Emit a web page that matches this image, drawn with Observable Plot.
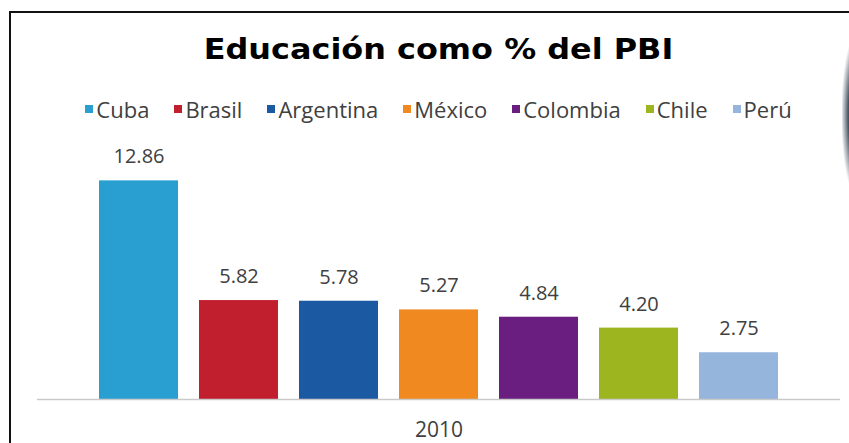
<!DOCTYPE html>
<html>
<head>
<meta charset="utf-8">
<script src="https://cdn.jsdelivr.net/npm/d3@7"></script>
<script src="https://cdn.jsdelivr.net/npm/@observablehq/plot@0.6"></script>
<style>
  html, body { margin: 0; padding: 0; background: #fff; }
  body { width: 849px; height: 443px; position: relative; overflow: hidden; }
  #frame { position: absolute; left: 9px; top: 11px; width: 845px; height: 440px;
           border-top: 2px solid #111; border-left: 2px solid #111; box-sizing: border-box; }
  #blob { position: absolute; left: 842px; top: 40px; width: 14px; height: 150px;
          background: radial-gradient(ellipse at 100% 50%, #2b3641 0%, #4a5866 40%, rgba(255,255,255,0) 75%); }
  #title { position: absolute; left: 0; width: 877px; top: 35px; text-align: center;
           font-family: "DejaVu Sans", sans-serif; font-weight: bold; font-size: 29px; line-height: 1;
           transform: scaleX(1.1); transform-origin: 438.5px 50%; color: #000; }
  #legend { position: absolute; left: 0; width: 877px; top: 96px; height: 26px; }
  #legend .lg-swatches { justify-content: center; min-height: 26px; margin: 0; }
  #legend .lg-swatch { margin-right: 25px; line-height: 26px; }
  #legend .lg-swatch:last-child { margin-right: 0; }
  #legend .lg-swatch > svg { margin-right: 3px; }
  #chart { position: absolute; left: 0; top: 130px; }
</style>
</head>
<body>
<div id="frame"></div>
<div id="blob"></div>
<div id="title">Educación como % del PBI</div>
<div id="legend"></div>
<div id="chart"></div>
<script>
const countries = ["Cuba", "Brasil", "Argentina", "México", "Colombia", "Chile", "Perú"];
const values = [12.86, 5.82, 5.78, 5.27, 4.84, 4.20, 2.75];
const colors = ["#289fd0", "#c11f2d", "#1c59a3", "#f0891f", "#6a1e80", "#9db51f", "#95b5dc"];
const year = "2010";

const data = countries.map((c, i) => ({country: c, value: values[i]}));

const legend = Plot.legend({
  color: {type: "categorical", domain: countries, range: colors},
  swatchSize: 8,
  className: "lg",
  style: {fontFamily: "'Open Sans', sans-serif", fontSize: "22px", color: "#404040"}
});
document.getElementById("legend").appendChild(legend);

const chart = Plot.plot({
  width: 849,
  height: 313,
  marginLeft: 37,
  marginRight: 9,
  marginTop: 31,
  marginBottom: 44,
  style: {fontFamily: "'Open Sans', sans-serif", background: "transparent"},
  x: {domain: countries, paddingInner: 0.21, paddingOuter: 0.62, axis: null},
  y: {domain: [0, 14], axis: null},
  color: {domain: countries, range: colors},
  marks: [
    Plot.barY(data, {x: "country", y: "value", fill: "country"}),
    Plot.ruleY([0], {stroke: "#c9c9c9", strokeWidth: 1.5}),
    Plot.text(data, {x: "country", y: "value", text: d => d.value.toFixed(2),
      lineAnchor: "middle", dy: -24, fontSize: 20, fill: "#404040"}),
    Plot.text([year], {frameAnchor: "bottom", text: d => d, lineAnchor: "middle",
      dy: 31, fontSize: 21, fill: "#404040"})
  ]
});
document.getElementById("chart").appendChild(chart);
</script>
</body>
</html>
